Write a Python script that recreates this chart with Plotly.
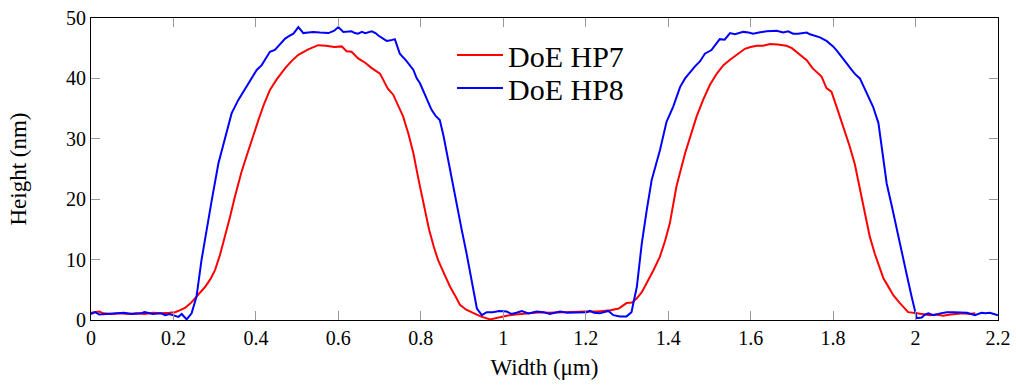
import plotly.graph_objects as go

# DoE HP7 (red)
hp7_x = [0.00, 0.02, 0.03, 0.05, 0.07, 0.09, 0.11, 0.13, 0.15, 0.17, 0.19, 0.204, 0.215, 0.228, 0.242, 0.256,
         0.277, 0.290, 0.301, 0.313, 0.325, 0.337, 0.349, 0.365, 0.382, 0.394, 0.406, 0.420, 0.434, 0.450,
         0.471, 0.487, 0.503, 0.527, 0.551, 0.570, 0.590, 0.608, 0.620, 0.632, 0.648, 0.665, 0.681, 0.701,
         0.709, 0.720, 0.733, 0.745, 0.757, 0.770, 0.782, 0.794, 0.806, 0.820, 0.832, 0.842, 0.857, 0.871,
         0.885, 0.895, 0.910, 0.927, 0.945, 0.968, 0.988, 1.008, 1.030, 1.050, 1.065, 1.09, 1.11, 1.14,
         1.17, 1.20, 1.23, 1.26, 1.28, 1.299, 1.312, 1.324, 1.336, 1.348, 1.364, 1.380, 1.392, 1.404,
         1.420, 1.441, 1.455, 1.469, 1.485, 1.501, 1.518, 1.534, 1.550, 1.566, 1.586, 1.600, 1.615, 1.630,
         1.647, 1.665, 1.687, 1.700, 1.711, 1.723, 1.736, 1.750, 1.762, 1.772, 1.784, 1.796, 1.810, 1.825,
         1.840, 1.853, 1.869, 1.879, 1.889, 1.901, 1.912, 1.922, 1.935, 1.946, 1.962, 1.975, 1.982, 2.003,
         2.02, 2.035, 2.05, 2.067, 2.085, 2.10, 2.116, 2.13, 2.145]
hp7_y = [1.2, 1.4, 1.1, 1.0, 1.1, 1.0, 1.1, 1.0, 1.2, 1.1, 1.2, 1.3, 1.6, 2.0, 2.8, 3.9,
         5.5, 6.8, 8.3, 10.8, 13.8, 17.0, 20.4, 24.5, 28.1, 30.8, 33.1, 35.8, 38.1, 39.8,
         41.7, 42.9, 43.9, 44.8, 45.5, 45.4, 45.2, 45.3, 44.5, 44.4, 43.3, 42.6, 41.7, 40.8,
         39.7, 38.3, 37.3, 35.5, 33.7, 30.8, 27.6, 23.4, 19.3, 15.0, 12.0, 9.9, 7.6, 5.5,
         3.8, 2.5, 1.7, 1.1, 0.6, 0.1, 0.4, 0.7, 0.9, 1.0, 1.1, 1.3, 1.2, 1.3,
         1.3, 1.4, 1.4, 1.6, 1.9, 2.8, 2.9, 3.6, 4.6, 6.1, 8.2, 10.5, 13.0, 16.0,
         22.1, 27.6, 30.8, 33.7, 36.5, 38.9, 40.8, 42.2, 43.1, 43.9, 44.9, 45.2, 45.4, 45.4,
         45.7, 45.6, 45.4, 45.0, 44.4, 43.8, 43.0, 41.7, 41.0, 40.3, 38.4, 37.8, 35.0, 32.0,
         28.8, 25.7, 20.4, 17.0, 13.8, 11.0, 8.8, 6.9, 5.4, 4.1, 2.8, 1.8, 1.3, 1.1,
         0.9, 0.8, 0.9, 0.7, 0.9, 1.0, 1.1, 1.0, 1.1]

# DoE HP8 (blue)
hp8_x = [0.00, 0.01, 0.02, 0.04, 0.06, 0.08, 0.10, 0.12, 0.13, 0.15, 0.17, 0.18, 0.19, 0.204, 0.212, 0.220,
         0.232, 0.244, 0.256, 0.268, 0.281, 0.293, 0.309, 0.325, 0.341, 0.357, 0.370, 0.382, 0.402, 0.414,
         0.425, 0.434, 0.446, 0.460, 0.471, 0.480, 0.491, 0.503, 0.515, 0.527, 0.539, 0.555, 0.576, 0.590,
         0.600, 0.612, 0.622, 0.632, 0.640, 0.648, 0.657, 0.665, 0.681, 0.690, 0.697, 0.709, 0.717, 0.727,
         0.737, 0.749, 0.765, 0.782, 0.790, 0.798, 0.812, 0.826, 0.836, 0.846, 0.855, 0.863, 0.875, 0.887,
         0.899, 0.911, 0.924, 0.936, 0.948, 0.960, 0.975, 0.990, 1.008, 1.020, 1.032, 1.045, 1.061, 1.081,
         1.097, 1.113, 1.125, 1.138, 1.155, 1.170, 1.185, 1.202, 1.210, 1.220, 1.234, 1.245, 1.255, 1.267,
         1.283, 1.299, 1.311, 1.324, 1.336, 1.348, 1.360, 1.380, 1.396, 1.412, 1.429, 1.441, 1.453, 1.465,
         1.477, 1.489, 1.505, 1.515, 1.525, 1.537, 1.550, 1.562, 1.572, 1.582, 1.595, 1.606, 1.620, 1.639,
         1.663, 1.679, 1.691, 1.703, 1.715, 1.724, 1.736, 1.744, 1.756, 1.768, 1.784, 1.800, 1.810, 1.821,
         1.833, 1.845, 1.855, 1.865, 1.873, 1.881, 1.897, 1.910, 1.920, 1.930, 1.942, 1.954, 1.966, 1.978,
         1.990, 2.003, 2.015, 2.023, 2.031, 2.043, 2.060, 2.076, 2.092, 2.108, 2.125, 2.144, 2.160, 2.170,
         2.180, 2.190, 2.200]
hp8_y = [1.0, 1.3, 0.9, 1.0, 1.0, 1.2, 1.0, 1.1, 1.3, 1.0, 1.1, 0.8, 1.0, 0.6, 0.5, 1.0,
         0.1, 1.1, 3.9, 9.9, 15.4, 19.9, 25.9, 30.3, 34.2, 36.4, 37.9, 39.2, 41.4, 42.2,
         43.5, 44.4, 44.7, 45.7, 46.6, 47.0, 47.4, 48.5, 47.5, 47.6, 47.7, 47.6, 47.5, 47.9,
         48.5, 47.7, 47.8, 47.8, 47.5, 47.4, 47.7, 47.5, 47.8, 47.5, 47.1, 46.6, 46.2, 46.3,
         46.5, 44.1, 42.9, 41.4, 40.0, 39.2, 37.0, 34.8, 33.8, 33.1, 30.5, 27.6, 23.5, 19.3,
         15.0, 11.0, 6.5, 1.9, 0.8, 1.3, 1.3, 1.5, 1.4, 1.0, 1.2, 1.5, 1.1, 1.4,
         1.3, 1.0, 1.2, 1.4, 1.2, 1.2, 1.3, 1.3, 1.5, 1.2, 1.1, 1.3, 1.5, 0.8,
         0.6, 0.6, 1.3, 5.5, 12.7, 18.2, 23.2, 28.1, 32.8, 35.3, 38.6, 40.0, 41.1, 42.0,
         42.8, 44.1, 44.7, 45.6, 46.5, 46.4, 47.5, 47.3, 47.5, 47.7, 47.6, 47.4, 47.6, 47.8,
         47.9, 47.6, 47.8, 47.4, 47.4, 47.5, 47.6, 47.3, 47.0, 46.8, 46.2, 45.3, 44.5, 43.6,
         42.5, 41.4, 40.6, 40.0, 38.8, 37.5, 35.3, 32.6, 27.5, 22.6, 19.0, 15.4, 11.5, 7.7,
         4.0, 0.3, 0.4, 0.9, 1.1, 0.8, 1.1, 1.3, 1.3, 1.2, 1.2, 0.8, 1.2, 1.1,
         1.2, 1.0, 0.8]

x_ticks = [0, 0.2, 0.4, 0.6, 0.8, 1.0, 1.2, 1.4, 1.6, 1.8, 2.0, 2.2]
x_tick_labels = ["0", "0.2", "0.4", "0.6", "0.8", "1", "1.2", "1.4", "1.6", "1.8", "2", "2.2"]
y_ticks = [0, 10, 20, 30, 40, 50]
y_tick_labels = ["0", "10", "20", "30", "40", "50"]

FONT = "Liberation Serif"

fig = go.Figure()
fig.add_trace(go.Scatter(x=hp7_x, y=hp7_y, mode="lines", name="DoE HP7", legend="legend",
                         line=dict(color="#ff0000", width=2)))
fig.add_trace(go.Scatter(x=hp8_x, y=hp8_y, mode="lines", name="DoE HP8", legend="legend2",
                         line=dict(color="#0000ff", width=2)))

axis_common = dict(showgrid=False, zeroline=False, showline=True, linecolor="black", linewidth=1,
                   mirror="ticks", ticks="inside", ticklen=9, tickcolor="#999999", tickwidth=1,
                   automargin=False,
                   tickfont=dict(family=FONT, size=20, color="black"))

legend_common = dict(x=(452 - 91) / 907, xanchor="left", yanchor="middle",
                     font=dict(family=FONT, size=30, color="black"), bgcolor="rgba(255,255,255,0)",
                     borderwidth=0, itemwidth=46)

fig.update_layout(
    width=1016, height=389,
    margin=dict(l=91, r=18, t=18, b=69),
    paper_bgcolor="white", plot_bgcolor="white",
    font=dict(family=FONT, color="black", size=20),
    xaxis=dict(range=[0, 2.2], tickvals=x_ticks, ticktext=x_tick_labels,
               title=dict(text="Width (μm)", font=dict(family=FONT, size=23, color="black"), standoff=10),
               **axis_common),
    yaxis=dict(range=[0, 50], tickvals=y_ticks, ticktext=y_tick_labels,
               title=dict(text="Height (nm)", font=dict(family=FONT, size=23, color="black"), standoff=32),
               **axis_common),
    legend=dict(y=(320 - 55) / 302, **legend_common),
    legend2=dict(y=(320 - 88) / 302, **legend_common),
    showlegend=True,
)

fig.write_html("out.html")
